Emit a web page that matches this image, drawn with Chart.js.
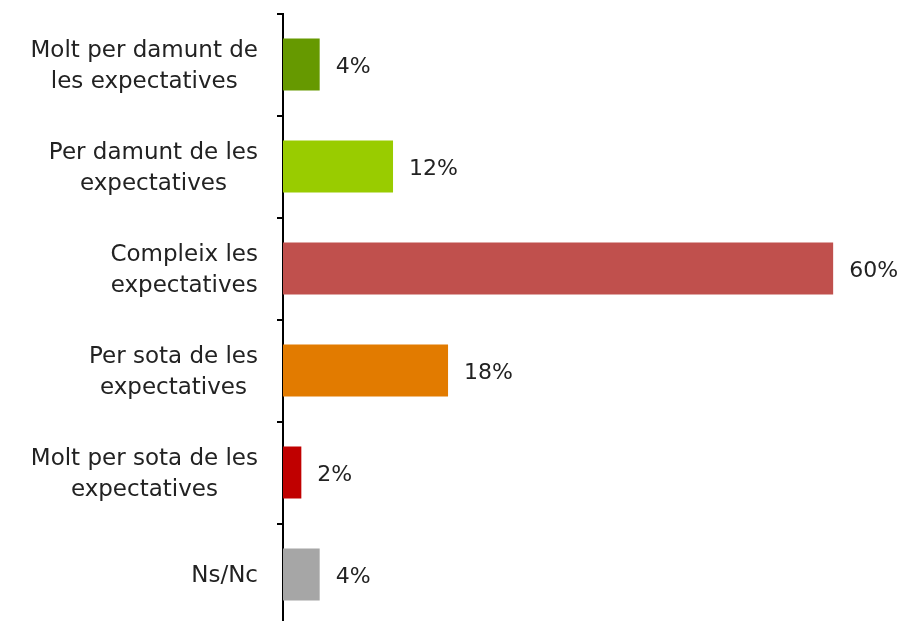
<!DOCTYPE html>
<html><head><meta charset="utf-8">
<script src="https://cdn.jsdelivr.net/npm/chart.js@4/dist/chart.umd.min.js"></script>
<style>html,body{margin:0;padding:0;overflow:hidden;background:#fff}#wrap{width:903px;height:634px;position:relative}</style>
</head><body><div id="wrap"><canvas id="c"></canvas></div>
<script>
const categories = [
  ["Molt per damunt de", "les expectatives"],
  ["Per damunt de les", "expectatives"],
  ["Compleix les", "expectatives"],
  ["Per sota de les", "expectatives"],
  ["Molt per sota de les", "expectatives"],
  ["Ns/Nc"]
];
const values = [4, 12, 60, 18, 2, 4];
const valueLabels = ["4%", "12%", "60%", "18%", "2%", "4%"];
const colors = ["#669900", "#99CC00", "#C0504D", "#E27B00", "#C00000", "#A6A6A6"];

const FONT = '"DejaVu Sans", sans-serif';

const labelPlugin = {
  id: 'valLabels',
  afterDatasetsDraw(chart) {
    const ctx = chart.ctx;
    const meta = chart.getDatasetMeta(0);
    const ys = chart.scales.y;
    ctx.save();
    ctx.fillStyle = '#222222';
    ctx.textBaseline = 'middle';
    // value labels
    ctx.font = '22px ' + FONT;
    ctx.textAlign = 'left';
    meta.data.forEach((bar, i) => {
      ctx.fillText(valueLabels[i], bar.x + 16, bar.y + 3);
    });
    // category labels: block right-aligned, lines centred within block
    ctx.font = '23px ' + FONT;
    const rightEdge = ys.right - 25;
    const lh = 31;
    categories.forEach((lines, i) => {
      const cy = ys.getPixelForValue(i) + 2;
      const widths = lines.map(l => ctx.measureText(l).width);
      const bw = Math.max(...widths);
      const cx = rightEdge - bw / 2;
      ctx.textAlign = 'center';
      lines.forEach((l, j) => {
        const y = cy + (j - (lines.length - 1) / 2) * lh;
        ctx.fillText(l, cx, y);
      });
    });
    ctx.restore();
  }
};

new Chart(document.getElementById('c'), {
  type: 'bar',
  data: { labels: categories, datasets: [{ data: values, backgroundColor: colors, barPercentage: 0.51, categoryPercentage: 1.0 }] },
  options: {
    indexAxis: 'y',
    responsive: true,
    maintainAspectRatio: false,
    animation: false,
    layout: { padding: { top: 13.5, right: 24, bottom: 8.5, left: 0 } },
    plugins: { legend: { display: false }, tooltip: { enabled: false } },
    scales: {
      x: { display: false, min: 0, max: 65 },
      y: {
        border: { display: true, color: '#000', width: 2 },
        grid: { drawOnChartArea: false, drawTicks: true, tickLength: 6, color: '#000', lineWidth: 2, offset: true },
        ticks: { display: false },
        afterFit(scale) { scale.width = 283; scale.paddingTop = 0; scale.paddingBottom = 0; }
      }
    }
  },
  plugins: [labelPlugin]
});
</script></body></html>
